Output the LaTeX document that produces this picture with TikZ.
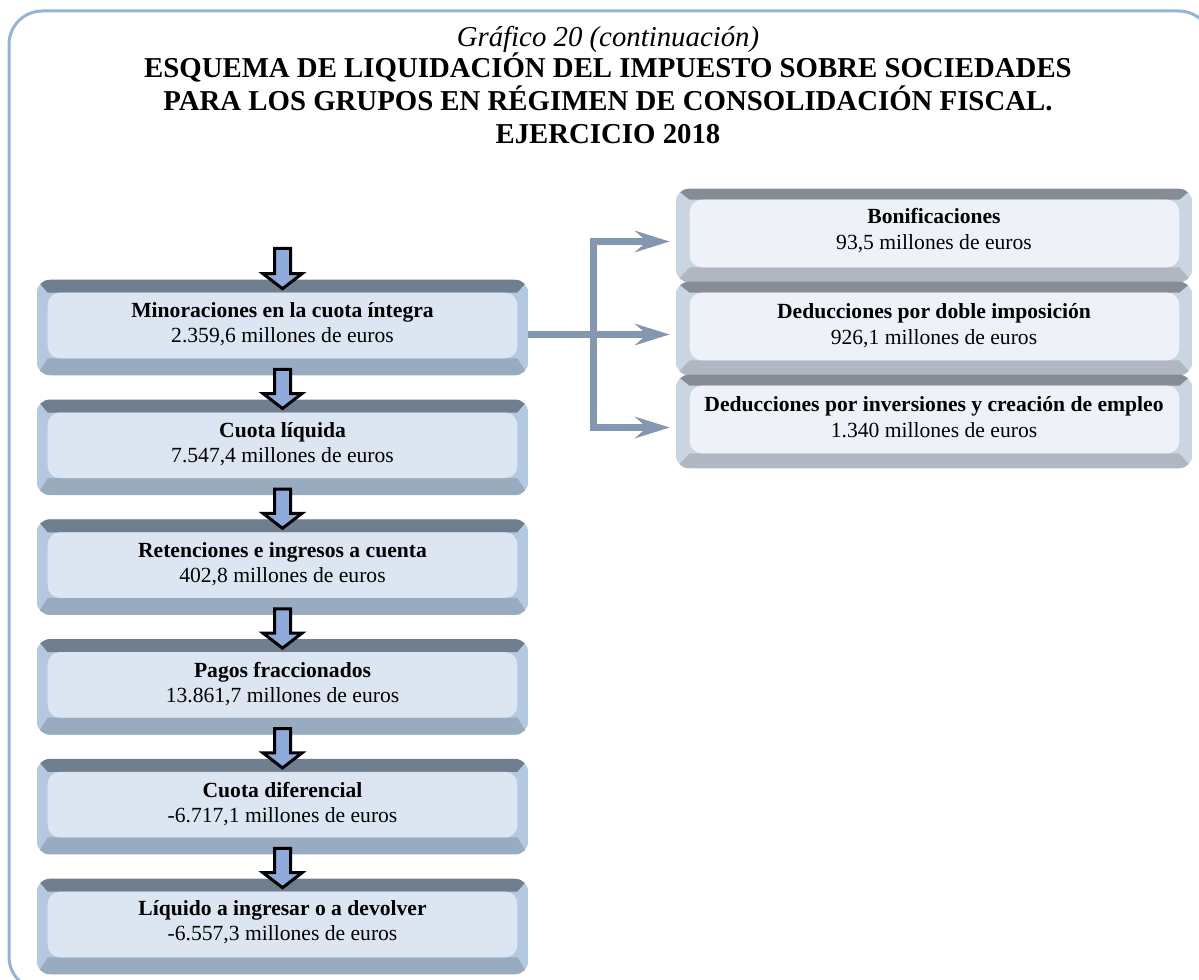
\documentclass[tikz,border=0pt]{standalone}
\usepackage{fontspec}
\setmainfont{Liberation Serif}
\usetikzlibrary{calc,backgrounds,arrows.meta}
\definecolor{framecol}{HTML}{95B3D7}
\definecolor{Ltop}{HTML}{6F7F8F}
\definecolor{Lside}{HTML}{B3C9E1}
\definecolor{Lbot}{HTML}{98ABBF}
\definecolor{Lface}{HTML}{DCE6F2}
\definecolor{Rtop}{HTML}{868C94}
\definecolor{Rside}{HTML}{CAD5E2}
\definecolor{Rbot}{HTML}{B0B7C2}
\definecolor{Rface}{HTML}{EEF2F8}
\definecolor{conncol}{HTML}{8497B0}
\definecolor{arrfill}{HTML}{8EAADB}
\newcommand\bevelbox[6]{%
  \begin{scope}[on background layer]
    \begin{scope}
      \clip[rounded corners=10] (#1.north west) rectangle (#1.south east);
      \fill[#2side] (#1.north west) rectangle (#1.south east);
      \fill[#2top] (#1.north west) -- (#1.north east) -- ($(#1.north east)+(-#5,#4)$) -- ($(#1.north west)+(#3,#4)$) -- cycle;
      \fill[#2bot] (#1.south west) -- (#1.south east) -- ($(#1.south east)+(-#5,-#6)$) -- ($(#1.south west)+(#3,-#6)$) -- cycle;
    \end{scope}
    \fill[#2face, rounded corners=9] ($(#1.north west)+(#3,#4)$) rectangle ($(#1.south east)+(-#5,-#6)$);
  \end{scope}}
\newcommand\blockarrow[2]{%
  \draw[blockarr] ($(#1)+(-8,0)$) -- ($(#2.north)+(-8,-6)$) -- ($(#2.north)+(-19.5,-6)$) -- ($(#2.north)+(0,9)$) -- ($(#2.north)+(19.5,-6)$) -- ($(#2.north)+(8,-6)$) -- ($(#1)+(8,0)$) -- cycle;}
\tikzset{
  lbox/.style={minimum width=368.25pt, minimum height=71.25pt, inner sep=0pt},
  rbox/.style={minimum width=387pt, minimum height=69.75pt, inner sep=0pt},
  lbl/.style={align=center, font=\fontsize{16.2}{18.75}\selectfont, inner sep=0pt},
  rlbl/.style={align=center, font=\fontsize{16.2}{19.5}\selectfont, inner sep=0pt},
  blockarr/.style={draw=black, fill=arrfill, line width=2.25pt, line join=miter},
  conn/.style={draw=conncol, line width=5pt, line join=miter},
  tip/.style={-{Stealth[length=26pt,width=16pt,inset=9pt]}},
  ttl/.style={align=center, font=\fontsize{21.6}{24.75}\selectfont\bfseries, inner sep=0pt},
  subttl/.style={font=\fontsize{21.6}{24.75}\selectfont\itshape, inner sep=0pt}
}
\begin{document}
\begin{tikzpicture}[x=0.75pt, y=-0.75pt]
\useasboundingbox (0,0) rectangle (1199,980);
\clip (0,0) rectangle (1199,980);
\draw[framecol, line width=2.25pt, rounded corners=25] (9,11) rectangle (1212,990);

\node[subttl, anchor=base] (sub) at (608,47) {Gráfico 20 (continuación)};
\node[ttl, anchor=north] (ttl) at (608,53) {ESQUEMA DE LIQUIDACIÓN DEL IMPUESTO SOBRE SOCIEDADES\\PARA LOS GRUPOS EN RÉGIMEN DE CONSOLIDACIÓN FISCAL.\\EJERCICIO 2018};

% left column
\node[lbox] (b1) at (282.5,327.5) {};
\node[lbox] (b2) at (282.5,447.3) {};
\node[lbox] (b3) at (282.5,567.1) {};
\node[lbox] (b4) at (282.5,686.9) {};
\node[lbox] (b5) at (282.5,806.7) {};
\node[lbox] (b6) at (282.5,926.5) {};
\foreach \n in {b1,b2,b3,b4,b5,b6}{\bevelbox{\n}{L}{11}{13}{11}{17}}

\node[lbl] (t1) at ($(b1.center)+(0,-3)$) {\textbf{Minoraciones en la cuota íntegra}\\2.359,6 millones de euros};
\node[lbl] (t2) at ($(b2.center)+(0,-3)$) {\textbf{Cuota líquida}\\7.547,4 millones de euros};
\node[lbl] (t3) at ($(b3.center)+(0,-3)$) {\textbf{Retenciones e ingresos a cuenta}\\402,8 millones de euros};
\node[lbl] (t4) at ($(b4.center)+(0,-3)$) {\textbf{Pagos fraccionados}\\13.861,7 millones de euros};
\node[lbl] (t5) at ($(b5.center)+(0,-3)$) {\textbf{Cuota diferencial}\\-6.717,1 millones de euros};
\node[lbl] (t6) at ($(b6.center)+(0,-4)$) {\textbf{Líquido a ingresar o a devolver}\\-6.557,3 millones de euros};

% right column
\node[rbox] (r1) at (934,235.5) {};
\node[rbox] (r2) at (934,328.5) {};
\node[rbox] (r3) at (934,421.5) {};
\foreach \n in {r1,r2,r3}{\bevelbox{\n}{R}{14}{11}{13}{15}}
\node[rlbl] (u1) at ($(r1.center)+(0,-5)$) {\textbf{Bonificaciones}\\93,5 millones de euros};
\node[rlbl] (u2) at ($(r2.center)+(0,-3)$) {\textbf{Deducciones por doble imposición}\\926,1 millones de euros};
\node[rlbl] (u3) at ($(r3.center)+(0,-4)$) {\textbf{Deducciones por inversiones y creación de empleo}\\1.340 millones de euros};

% block arrows
\coordinate (a0) at (282.5,248.5);
\coordinate (a1) at ($(b1.south)+(0,-6)$);
\coordinate (a2) at ($(b2.south)+(0,-6)$);
\coordinate (a3) at ($(b3.south)+(0,-6)$);
\coordinate (a4) at ($(b4.south)+(0,-6)$);
\coordinate (a5) at ($(b5.south)+(0,-6)$);
\blockarrow{a0}{b1}
\blockarrow{a1}{b2}
\blockarrow{a2}{b3}
\blockarrow{a3}{b4}
\blockarrow{a4}{b5}
\blockarrow{a5}{b6}

% connectors
\coordinate (e1) at ($(r1.west)+(-6,6)$);
\coordinate (e2) at ($(r2.west)+(-6,6)$);
\coordinate (e3) at ($(r3.west)+(-6,6)$);
\coordinate (jn) at ($(b1.east |- e2)+(65,0)$);
\draw[conn,tip] (jn |- e3) -- (jn |- e1) -- (e1);
\draw[conn,tip] (jn |- e1) -- (jn |- e3) -- (e3);
\draw[conn,tip] (b1.east |- e2) -- (e2);
\end{tikzpicture}
\end{document}
